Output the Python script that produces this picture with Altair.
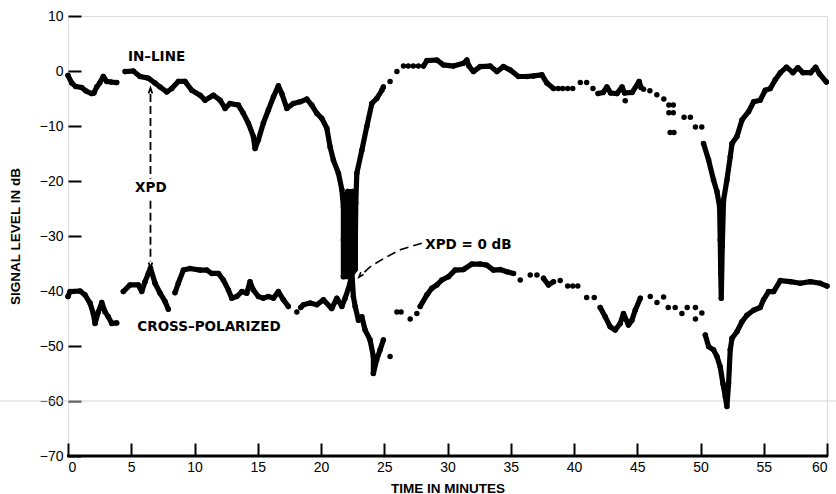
import altair as alt
import pandas as pd

# ---------------------------------------------------------------------------
# Recorded signal levels, (time in minutes, level in dB).
# Each list is one unbroken stretch of the recorder trace; the *_dots lists
# hold isolated samples that are plotted as single dots.
# ---------------------------------------------------------------------------
inline_a = [(0.0, -0.8), (0.3, -2.2), (0.6, -2.8), (1.08, -3.0), (1.4, -3.6),
            (1.87, -4.1), (2.05, -4.0), (2.27, -2.9), (2.5, -2.2), (2.79, -1.0),
            (3.06, -1.9), (3.4, -2.0), (3.85, -2.1)]
inline_b = [(4.51, -0.1), (5.16, 0.0), (5.69, -1.0), (6.35, -1.3), (6.88, -2.2),
            (7.28, -2.9), (7.81, -3.8), (8.2, -3.2), (8.72, -1.9), (9.25, -1.9),
            (9.78, -3.5), (10.44, -4.4), (10.83, -5.3), (11.49, -4.4), (12.02, -5.3),
            (12.42, -6.8), (12.81, -5.9), (13.47, -6.2), (13.86, -7.7), (14.26, -9.5),
            (14.65, -11.9), (14.79, -14.1), (15.05, -12.5), (15.44, -9.5), (15.84, -7.1),
            (16.24, -4.7), (16.63, -2.7), (16.9, -4.1), (17.3, -6.8), (17.82, -5.9),
            (18.35, -5.6), (18.88, -5.1), (19.27, -6.2), (19.67, -7.7), (20.06, -8.6),
            (20.46, -10.4), (20.72, -13.8), (20.98, -16.2), (21.38, -18.6), (21.65, -21.6),
            (21.77, -24.7), (21.77, -30.7), (21.77, -37.4), (22.3, -37.4), (22.72, -36.0),
            (22.72, -30.0), (22.75, -24.0), (22.83, -18.6), (23.23, -14.4), (23.62, -10.1),
            (24.02, -5.9), (24.41, -5.0), (24.81, -3.5), (24.93, -2.9)]
inline_fade_1 = [(21.95, -22.5), (21.95, -37.2)]
inline_fade_2 = [(22.12, -21.9), (22.12, -37.0)]
inline_fade_3 = [(22.3, -22.0), (22.3, -36.8)]
inline_fade_4 = [(22.48, -21.9), (22.48, -36.6)]
inline_fade_5 = [(22.62, -23.0), (22.62, -36.2)]
inline_c = [(28.1, 0.9), (28.37, 1.9), (29.16, 2.0), (29.68, 1.1), (30.47, 0.9),
            (31.26, 1.4), (31.53, 2.0), (31.7, 0.9), (32.05, -0.1), (32.58, 0.8),
            (33.37, 0.9), (33.9, -0.1), (34.42, 0.8), (34.95, 0.2), (35.61, -1.0),
            (36.27, -1.0), (36.8, -0.9), (37.46, -0.7), (37.86, -2.2), (38.38, -3.2)]
inline_d = [(41.9, -4.1), (42.3, -3.9), (42.6, -2.9), (42.9, -4.0), (43.4, -4.1),
            (43.8, -2.9), (44.0, -4.0), (44.6, -3.9), (45.15, -1.9), (45.3, -3.0)]
inline_e = [(50.24, -13.2), (50.64, -16.2), (51.03, -19.8), (51.3, -21.9), (51.51, -24.7),
            (51.56, -30.7), (51.6, -36.8), (51.64, -41.3), (51.72, -32.0), (51.82, -23.5),
            (52.09, -19.8), (52.35, -15.6), (52.49, -13.2), (52.88, -11.9), (53.28, -8.9),
            (53.8, -7.4), (54.2, -5.6), (54.72, -5.3), (55.12, -3.5), (55.51, -3.2),
            (55.91, -1.6), (56.31, -0.3), (56.8, 0.7), (57.3, -0.3), (57.7, 0.6),
            (58.1, -0.3), (58.7, -0.3), (59.1, 0.7), (59.4, -0.5), (59.95, -2.0)]
inline_dots = [(25.46, -1.9), (26.0, -0.1), (26.52, 0.9), (26.9, 0.9), (27.3, 0.9),
               (27.7, 0.9), (38.75, -3.2), (39.1, -3.2), (39.5, -3.2), (39.9, -3.2),
               (40.5, -2.1), (41.0, -2.1), (41.5, -3.2), (44.05, -5.4), (45.5, -3.3),
               (46.0, -3.6), (46.55, -4.3), (47.1, -5.1), (47.5, -6.2), (47.85, -6.2),
               (47.5, -7.6), (47.85, -7.6), (47.6, -11.2), (47.9, -11.2), (48.7, -8.4),
               (49.2, -8.4), (49.6, -10.2), (50.1, -10.2)]

cross_a = [(0.0, -41.0), (0.16, -40.1), (0.95, -40.0), (1.34, -40.7), (1.74, -42.2),
           (2.0, -44.1), (2.14, -45.9), (2.4, -43.8), (2.67, -42.1), (2.93, -43.8),
           (3.19, -44.7), (3.46, -45.9), (3.85, -45.8)]
cross_b = [(4.37, -40.1), (4.9, -38.9), (5.56, -38.9), (5.83, -40.1), (6.09, -38.3),
           (6.35, -36.8), (6.52, -35.8), (6.88, -38.6), (7.28, -40.4), (7.67, -41.9),
           (7.93, -43.3)]
cross_c = [(8.46, -40.3), (8.72, -38.6), (9.12, -36.2), (9.65, -35.9), (10.44, -36.2),
           (10.97, -36.2), (11.36, -36.8), (11.89, -36.8), (12.28, -38.0), (12.68, -39.8),
           (12.95, -41.3), (13.34, -41.0), (13.74, -40.1), (14.13, -40.4), (14.39, -38.3),
           (14.65, -39.8), (15.05, -41.0), (15.44, -41.3), (15.84, -41.0), (16.24, -41.3),
           (16.63, -40.1), (17.03, -41.6), (17.42, -42.8)]
cross_d = [(18.4, -43.0), (18.61, -42.5), (19.14, -42.2), (19.67, -42.5), (20.19, -41.6),
           (20.85, -43.2), (21.25, -41.3), (21.65, -42.8), (21.91, -41.3), (22.3, -38.6),
           (22.44, -36.5), (22.56, -41.0), (22.7, -42.8), (22.96, -45.3), (23.23, -44.7),
           (23.49, -47.1), (23.88, -48.9), (24.14, -51.9), (24.14, -55.0), (24.4, -52.5),
           (24.67, -50.7), (24.93, -48.9)]
cross_e = [(27.84, -42.8), (28.37, -40.7), (28.76, -39.5), (29.16, -38.9), (29.55, -38.0),
           (30.08, -37.4), (30.6, -36.2), (31.26, -36.1), (31.93, -35.1), (32.58, -35.1),
           (33.11, -35.3), (33.63, -36.2), (34.16, -36.1), (34.69, -36.5), (35.22, -36.8)]
cross_f = [(37.59, -37.7), (37.98, -38.9), (38.38, -38.3)]
cross_g = [(42.07, -43.0), (42.47, -44.7), (42.86, -46.5), (43.26, -47.1), (43.65, -45.9),
           (43.91, -44.1), (44.31, -46.2), (44.58, -45.3), (44.84, -43.5), (45.24, -41.3)]
cross_h = [(50.38, -48.0), (50.64, -50.1), (51.03, -50.7), (51.3, -51.9), (51.56, -53.8),
           (51.77, -56.8), (51.96, -59.2), (52.09, -61.0), (52.22, -56.8), (52.35, -50.7),
           (52.49, -48.6), (52.88, -47.4), (53.28, -45.6), (53.67, -44.4), (54.2, -43.5),
           (54.72, -43.0), (54.98, -41.6), (55.38, -40.1), (55.78, -40.1), (56.31, -38.1),
           (57.1, -38.3), (57.89, -38.6), (58.68, -38.3), (59.47, -38.6), (60.0, -39.1)]
cross_dots = [(18.09, -43.8), (25.46, -51.9), (26.0, -43.8), (26.33, -43.8), (27.05, -45.1),
              (27.58, -44.1), (35.75, -38.0), (36.54, -37.1), (37.07, -37.1), (38.91, -38.1),
              (39.5, -39.1), (39.9, -39.1), (40.3, -39.1), (41.0, -41.2), (41.6, -41.2),
              (46.03, -41.0), (46.56, -42.1), (47.08, -41.1), (47.45, -43.0), (48.0, -43.0),
              (48.53, -44.1), (48.95, -43.0), (49.6, -43.0), (49.6, -45.1), (50.11, -44.0)]

# Annotation text
label_text = ["IN\u2013LINE", "XPD", "CROSS\u2013POLARIZED", "XPD = 0 dB"]
label_min = [7.0, 6.55, 11.15, 31.65]
label_db = [2.6, -21.3, -46.6, -31.6]

# XPD measurement arrow (dashed, split around its label)
xpd_min = 6.52
xpd_dash_from = [-4.2, -23.6]
xpd_dash_to = [-19.6, -34.6]
xpd_tip_db = [-3.1, -35.8]
xpd_tip_angle = [0, 180]

# Leader for the XPD = 0 dB note
leader_min = [27.97, 26.26, 24.94, 23.88, 23.0]
leader_db = [-31.3, -32.5, -34.1, -35.6, -37.5]

# Axis ticks
x_ticks = list(range(0, 61, 5))
y_ticks = list(range(-70, 11, 10))
TICK_LEN = 13  # ticks point into the plot

# ---------------------------------------------------------------------------
rows = []
groups = [
    ("inline_a", inline_a, True), ("inline_b", inline_b, True),
    ("inline_fade_1", inline_fade_1, True), ("inline_fade_2", inline_fade_2, True),
    ("inline_fade_3", inline_fade_3, True), ("inline_fade_4", inline_fade_4, True),
    ("inline_fade_5", inline_fade_5, True),
    ("inline_c", inline_c, True), ("inline_d", inline_d, True),
    ("inline_e", inline_e, True), ("inline_dots", inline_dots, False),
    ("cross_a", cross_a, True), ("cross_b", cross_b, True), ("cross_c", cross_c, True),
    ("cross_d", cross_d, True), ("cross_e", cross_e, True), ("cross_f", cross_f, True),
    ("cross_g", cross_g, True), ("cross_h", cross_h, True),
    ("cross_dots", cross_dots, False),
]
for name, pts, joined in groups:
    for i, (t, v) in enumerate(pts):
        rows.append({"trace": name, "seq": i, "minutes": t, "db": v, "joined": joined})
traces = pd.DataFrame(rows)

LABEL_FONT = "Liberation Sans"
TEXT_FONT = "DejaVu Sans"

x_scale = alt.Scale(domain=[0, 60], nice=False, zero=False)
y_scale = alt.Scale(domain=[-70, 10], nice=False, zero=False)

# The axes are pulled inside the frame by the tick length, so the ticks
# end on the frame and point inward.
X = alt.X("minutes:Q", scale=x_scale,
          axis=alt.Axis(values=x_ticks, grid=False, title="TIME IN MINUTES",
                        domain=False, offset=-TICK_LEN, tickSize=TICK_LEN,
                        tickWidth=2, tickColor="black", labelPadding=4,
                        labelFontSize=14, titleFontSize=13.5, titleY=32 + TICK_LEN,
                        titleBaseline="middle"))
Y = alt.Y("db:Q", scale=y_scale,
          axis=alt.Axis(values=y_ticks, grid=False, title="SIGNAL LEVEL IN dB",
                        domain=False, offset=-TICK_LEN, tickSize=TICK_LEN,
                        tickWidth=2, tickColor="black", labelPadding=5,
                        labelFontSize=14, titleFontSize=13.5, titleX=-53 - TICK_LEN,
                        titleY=220, titleAlign="center", titleBaseline="middle"))

XQ = alt.X("minutes:Q", scale=x_scale)
YQ = alt.Y("db:Q", scale=y_scale)

# faint horizontal streak at -60 dB
streak = alt.Chart(pd.DataFrame({"db": [-60]})).mark_rule(
    color="#d6d6d6", strokeWidth=1.2, clip=False
).encode(y=YQ, x=alt.value(-68), x2=alt.value(768))

lines = alt.Chart(traces).transform_filter("datum.joined").mark_line(
    color="black", strokeWidth=5.2, strokeCap="round", strokeJoin="round"
).encode(x=X, y=Y, detail="trace:N", order="seq:Q")

dots = alt.Chart(traces).mark_circle(color="black", size=30, opacity=1).encode(x=XQ, y=YQ)

# heavier bottom edge of the frame
base_line = alt.Chart(pd.DataFrame({"db": [-70]})).mark_rule(
    color="black", strokeWidth=3.2, clip=False
).encode(y=YQ, x=alt.value(-1), x2=alt.value(760))

notes = alt.Chart(pd.DataFrame({"text": label_text, "minutes": label_min, "db": label_db})
                  ).mark_text(font=TEXT_FONT, fontSize=13.5, fontWeight="bold", color="black",
                              align="center", baseline="middle").encode(
    x=XQ, y=YQ, text="text:N")

xpd_dash = alt.Chart(pd.DataFrame({"minutes": [xpd_min, xpd_min],
                                   "db": xpd_dash_from, "db2": xpd_dash_to})).mark_rule(
    color="black", strokeWidth=1.8, strokeDash=[8, 4]
).encode(x=XQ, y=YQ, y2="db2:Q")

arrow_shape = "M -0.45 1.3 L 0 0 L 0.45 1.3"
xpd_tips = alt.Chart(pd.DataFrame({"minutes": [xpd_min, xpd_min], "db": xpd_tip_db,
                                   "angle": xpd_tip_angle})).mark_point(
    shape=arrow_shape, filled=False, color="black", strokeWidth=1.8, size=70, opacity=1
).encode(x=XQ, y=YQ, angle=alt.Angle("angle:Q", scale=None))

leader = alt.Chart(pd.DataFrame({"minutes": leader_min, "db": leader_db,
                                 "seq": list(range(len(leader_min)))})).mark_line(
    color="black", strokeWidth=1.6, strokeDash=[9, 5]
).encode(x=XQ, y=YQ, order="seq:Q")

leader_tip = alt.Chart(pd.DataFrame({"minutes": [leader_min[-1]], "db": [leader_db[-1]],
                                     "angle": [220]})).mark_point(
    shape=arrow_shape, filled=False, color="black", strokeWidth=1.6, size=60, opacity=1
).encode(x=XQ, y=YQ, angle=alt.Angle("angle:Q", scale=None))

chart = alt.layer(
    streak, lines, dots, base_line, xpd_dash, xpd_tips, leader, leader_tip, notes
).properties(
    width=759, height=440,
    padding={"left": 68, "top": 16, "right": 9, "bottom": 38},
    autosize=alt.AutoSizeParams(type="none"),
).configure_view(
    stroke="black", strokeWidth=2
).configure_axis(
    labelFont=LABEL_FONT, titleFont=TEXT_FONT, labelColor="black",
    titleColor="black", labelFontWeight="bold", titleFontWeight="normal"
).configure(background="white")

chart.save("out.html", embed_options={"renderer": "svg", "actions": False})
